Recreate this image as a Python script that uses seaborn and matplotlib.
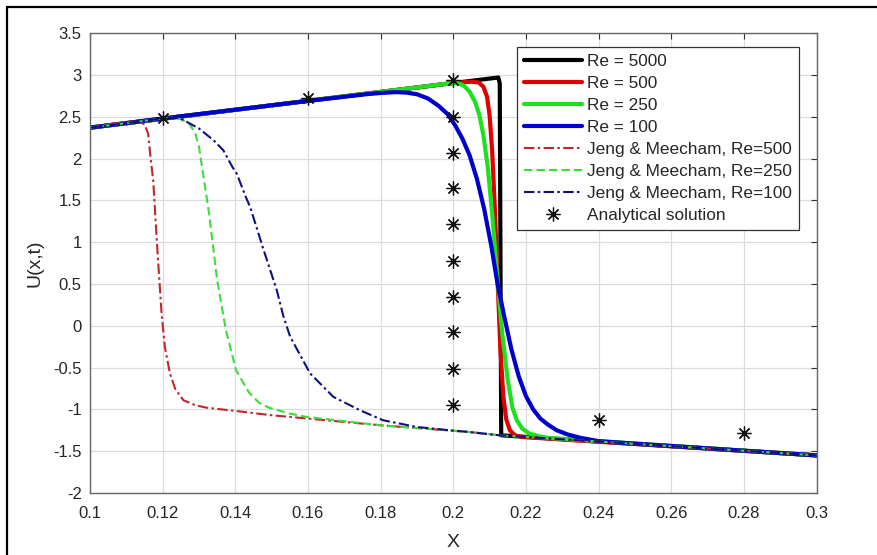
import matplotlib
matplotlib.use("Agg")
import matplotlib.pyplot as plt
import seaborn as sns
from matplotlib.lines import Line2D

# ---------------- data ----------------
re5000_x = [0.100, 0.2124, 0.2128, 0.2132, 0.300]
re5000_y = [2.37, 2.97, 2.90, -1.31, -1.55]

re500_x = [0.100, 0.200, 0.205, 0.207, 0.2083, 0.2093, 0.2100, 0.2107, 0.2114,
           0.2122, 0.2130, 0.2138, 0.2146, 0.2156, 0.2170, 0.2190, 0.300]
re500_y = [2.37, 2.905, 2.92, 2.91, 2.86, 2.74, 2.52, 2.10, 1.45,
           0.55, -0.30, -0.85, -1.12, -1.25, -1.31, -1.33, -1.55]

re250_x = [0.100, 0.200, 0.2015, 0.2030, 0.2045, 0.2060, 0.2072, 0.2083, 0.2095,
           0.2108, 0.2122, 0.2135, 0.2150, 0.2163, 0.2175, 0.2190, 0.2210,
           0.2235, 0.2260, 0.300]
re250_y = [2.37, 2.905, 2.90, 2.87, 2.80, 2.68, 2.52, 2.28, 1.90,
           1.30, 0.55, -0.10, -0.65, -0.98, -1.13, -1.23, -1.29,
           -1.32, -1.34, -1.55]

re100_x = [0.100, 0.120, 0.160, 0.170, 0.176, 0.180, 0.184, 0.187, 0.190,
           0.193, 0.196, 0.1985, 0.2005, 0.2025, 0.2045, 0.2065, 0.2085,
           0.2105, 0.2122, 0.2140, 0.2160, 0.2180, 0.2200, 0.2220, 0.2240,
           0.2260, 0.2285, 0.2315, 0.2350, 0.2400, 0.2500, 0.300]
re100_y = [2.37, 2.48, 2.69, 2.74, 2.77, 2.785, 2.795, 2.79, 2.77,
           2.72, 2.63, 2.53, 2.40, 2.24, 2.04, 1.76, 1.40,
           0.95, 0.50, 0.12, -0.28, -0.60, -0.84, -1.00, -1.11,
           -1.18, -1.25, -1.30, -1.34, -1.38, -1.41, -1.55]

jm500_x = [0.100, 0.105, 0.110, 0.1135, 0.1150, 0.1160, 0.1167, 0.1174, 0.1185,
           0.1197, 0.1206, 0.1220, 0.1235, 0.1257, 0.1290, 0.1321, 0.1404,
           0.1500, 0.1600, 0.1800, 0.2043, 0.2128, 0.300]
jm500_y = [2.37, 2.41, 2.44, 2.44, 2.41, 2.30, 2.00, 1.74, 0.94,
           0.15, -0.25, -0.57, -0.76, -0.89, -0.95, -0.98, -1.02,
           -1.07, -1.11, -1.19, -1.27, -1.31, -1.55]

jm250_x = [0.100, 0.120, 0.1227, 0.1250, 0.1273, 0.1290, 0.1300, 0.1314, 0.1328,
           0.1350, 0.1374, 0.1402, 0.1438, 0.1465, 0.1493, 0.1550, 0.1597,
           0.1800, 0.2043, 0.2128, 0.300]
jm250_y = [2.37, 2.48, 2.49, 2.47, 2.42, 2.30, 2.14, 1.74, 1.34,
           0.55, -0.05, -0.53, -0.80, -0.92, -0.98, -1.05, -1.09,
           -1.19, -1.27, -1.31, -1.55]

jm100_x = [0.100, 0.120, 0.1245, 0.1300, 0.1340, 0.1367, 0.1392, 0.1404, 0.1429,
           0.1441, 0.1477, 0.1514, 0.1532, 0.1551, 0.1606, 0.1670, 0.1743,
           0.1807, 0.1899, 0.1991, 0.2043, 0.2128, 0.300]
jm100_y = [2.37, 2.48, 2.49, 2.36, 2.22, 2.10, 1.90, 1.82, 1.54,
           1.42, 0.92, 0.43, 0.12, -0.13, -0.57, -0.85, -1.01,
           -1.13, -1.21, -1.25, -1.27, -1.31, -1.55]

exact_x = [0.12, 0.16, 0.2, 0.2, 0.2, 0.2, 0.2, 0.2, 0.2, 0.2, 0.2, 0.2, 0.24, 0.28]
exact_y = [2.48, 2.72, 2.94, 2.50, 2.07, 1.65, 1.22, 0.78, 0.35, -0.08, -0.52, -0.95, -1.13, -1.28]

x_ticks = [0.10, 0.12, 0.14, 0.16, 0.18, 0.20, 0.22, 0.24, 0.26, 0.28, 0.30]
x_tick_labels = ["0.1", "0.12", "0.14", "0.16", "0.18", "0.2", "0.22", "0.24", "0.26", "0.28", "0.3"]
y_ticks = [3.5, 3.0, 2.5, 2.0, 1.5, 1.0, 0.5, 0.0, -0.5, -1.0, -1.5, -2.0]
y_tick_labels = ["3.5", "3", "2.5", "2", "1.5", "1", "0.5", "0", "-0.5", "-1", "-1.5", "-2"]

# ---------------- style ----------------
sns.set_style("white")
plt.rcParams["font.family"] = ["Liberation Sans", "DejaVu Sans"]

fig = plt.figure(figsize=(8.77, 5.55), dpi=100)
ax = fig.add_axes([90 / 877, 1 - 493 / 555, 726.5 / 877, 459.8 / 555])

solid = [
    (re5000_x, re5000_y, "#000000", "Re = 5000"),
    (re500_x, re500_y, "#e00000", "Re = 500"),
    (re250_x, re250_y, "#1ee01e", "Re = 250"),
    (re100_x, re100_y, "#0000cc", "Re = 100"),
]
for xs, ys, c, lab in solid:
    sns.lineplot(x=xs, y=ys, ax=ax, color=c, linewidth=3.0, label=lab,
                 estimator=None, sort=False)

dashed = [
    (jm500_x, jm500_y, "#c0272d", (0, (5, 1.6, 1.2, 1.6)), "Jeng & Meecham, Re=500"),
    (jm250_x, jm250_y, "#3cdc3c", (0, (4, 2)), "Jeng & Meecham, Re=250"),
    (jm100_x, jm100_y, "#101080", (0, (5, 1.6, 1.2, 1.6)), "Jeng & Meecham, Re=100"),
]
for xs, ys, c, ls, lab in dashed:
    sns.lineplot(x=xs, y=ys, ax=ax, color=c, linewidth=1.5, linestyle=ls,
                 label=lab, estimator=None, sort=False)

sns.lineplot(x=exact_x, y=exact_y, ax=ax, color="black", linestyle="none",
             marker=(8, 2, 0), markersize=10, markeredgewidth=0.9,
             markeredgecolor="#111111", markerfacecolor="#111111",
             label="Analytical solution", estimator=None, sort=False)

ax.set_xlim(0.1, 0.3)
ax.set_ylim(-2, 3.5)
ax.set_xticks(x_ticks)
ax.set_xticklabels(x_tick_labels)
ax.set_yticks(y_ticks)
ax.set_yticklabels(y_tick_labels)
ax.grid(True, color="#dcdcdc", linewidth=0.9)
ax.set_axisbelow(True)
ax.tick_params(direction="in", length=4, width=0.8, top=True, right=True,
               labelsize=12, colors="#333333", labelcolor="#262626", pad=6)
ax.tick_params(axis="x", pad=9)
for sp in ax.spines.values():
    sp.set_visible(True)
    sp.set_color("#666666")
    sp.set_linewidth(1.0)

ax.set_xlabel("X", fontsize=14, color="#262626", labelpad=10)
ax.set_ylabel("U(x,t)", fontsize=14, color="#262626", labelpad=7)

leg = ax.legend(loc="upper right", bbox_to_anchor=(0.976, 0.969), borderaxespad=0,
                fontsize=12.4, handlelength=3.4, handletextpad=0.3, labelspacing=0.4,
                borderpad=0.4, fancybox=False, framealpha=1, edgecolor="#333333")
leg.get_frame().set_linewidth(0.9)

# outer figure border (top and left)
fig.add_artist(Line2D([7 / 877, 1.0], [1 - 7 / 555, 1 - 7 / 555], transform=fig.transFigure,
                      color="black", linewidth=1.6))
fig.add_artist(Line2D([7 / 877, 7 / 877], [0.0, 1 - 7 / 555], transform=fig.transFigure,
                      color="black", linewidth=1.6))

fig.savefig("out.png", dpi=100)
